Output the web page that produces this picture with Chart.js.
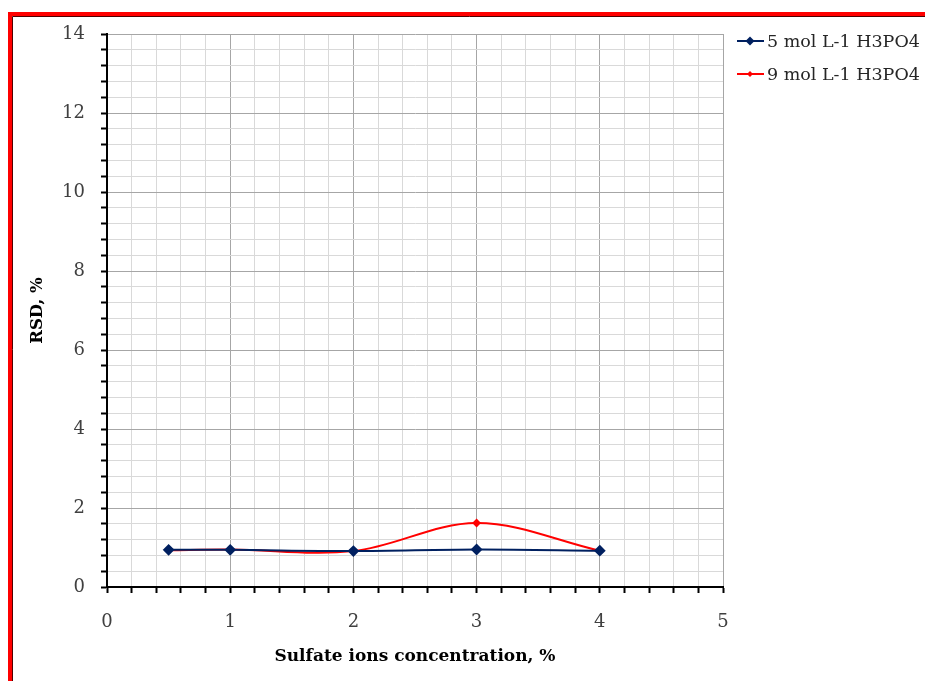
<!DOCTYPE html>
<html><head><meta charset="utf-8">
<script src="https://cdn.jsdelivr.net/npm/chart.js@4"></script>
<style>html,body{margin:0;padding:0;background:#fff}#wrap{width:925px;height:681px}</style>
</head><body><div id="wrap"><canvas id="c" width="925" height="681"></canvas></div>
<script>
const xValues = [0.5, 1, 2, 3, 4];
const series5 = [0.94, 0.94, 0.91, 0.95, 0.92];
const series9 = [0.93, 0.95, 0.91, 1.62, 0.92];
const seriesNames = ['5 mol L-1 H3PO4', '9 mol L-1 H3PO4'];
const seriesColors = ['#002060', '#ff0000'];
const xTitle = 'Sulfate ions concentration, %';
const yTitle = 'RSD, %';
const xMajorLabels = [0, 1, 2, 3, 4, 5];
const yMajorLabels = [0, 2, 4, 6, 8, 10, 12, 14];

const isMajor = (v, arr) => arr.some(m => Math.abs(v - m) < 1e-6);
const serif = "'DejaVu Serif', serif";

const framePlugin = {
  id: 'frame',
  beforeDraw(chart) {
    const ctx = chart.ctx;
    ctx.save();
    ctx.fillStyle = '#fff';
    ctx.fillRect(0, 0, chart.width, chart.height);
    ctx.restore();
  },
  afterDraw(chart) {
    const ctx = chart.ctx;
    ctx.save();
    ctx.strokeStyle = '#ff0000';
    ctx.lineWidth = 4;
    ctx.strokeRect(10, 14, 2000, 2000);
    ctx.strokeStyle = '#500000';
    ctx.lineWidth = 1;
    ctx.beginPath();
    ctx.moveTo(12.5, 2000); ctx.lineTo(12.5, 16.5); ctx.lineTo(2000, 16.5);
    ctx.stroke();
    // legend
    ctx.font = '17.5px ' + serif;
    ctx.textBaseline = 'middle';
    chart.data.datasets.forEach((ds, i) => {
      const y = 41 + i * 33;
      ctx.strokeStyle = ds.borderColor;
      ctx.lineWidth = 2;
      ctx.beginPath(); ctx.moveTo(737, y); ctx.lineTo(764, y); ctx.stroke();
      ctx.fillStyle = ds.borderColor;
      const r = ds.pointRadius;
      ctx.beginPath();
      ctx.moveTo(750, y - r); ctx.lineTo(750 + r, y); ctx.lineTo(750, y + r); ctx.lineTo(750 - r, y); ctx.closePath();
      ctx.fill();
      ctx.fillStyle = '#262626';
      ctx.fillText(ds.label, 767, y + 1);
    });
    ctx.restore();
  }
};

new Chart(document.getElementById('c'), {
  type: 'line',
  data: {
    datasets: [
      { label: seriesNames[0], data: xValues.map((x, i) => ({x, y: series5[i]})),
        borderColor: seriesColors[0], backgroundColor: seriesColors[0], borderWidth: 2,
        pointStyle: 'rectRot', pointRadius: 4.5, tension: 0.35 },
      { label: seriesNames[1], data: xValues.map((x, i) => ({x, y: series9[i]})),
        borderColor: seriesColors[1], backgroundColor: seriesColors[1], borderWidth: 2,
        pointStyle: 'rectRot', pointRadius: 3, tension: 0.35 }
    ]
  },
  options: {
    responsive: false,
    animation: false,
    layout: { padding: { top: 34, right: 202, left: 0, bottom: 0 } },
    plugins: { legend: { display: false }, tooltip: { enabled: false } },
    scales: {
      x: {
        type: 'linear', min: 0, max: 5,
        ticks: { stepSize: 0.2, autoSkip: false, maxRotation: 0, padding: 19,
          color: '#404040', font: { family: serif, size: 18 },
          callback: v => isMajor(v, xMajorLabels) ? String(Math.round(v)) : '' },
        grid: { color: c => isMajor(c.tick.value, xMajorLabels) ? '#a6a6a6' : '#d9d9d9',
          tickColor: '#000', tickLength: 6, tickWidth: 2, lineWidth: 1 },
        border: { color: '#000', width: 2 },
        title: { display: true, text: xTitle, color: '#000',
          font: { family: serif, size: 17, weight: 'bold' }, padding: { top: 0, bottom: 14 } },
        afterFit: s => { s.height = 94; }
      },
      y: {
        type: 'linear', min: 0, max: 14,
        ticks: { stepSize: 0.4, autoSkip: false, padding: 16,
          color: '#404040', font: { family: serif, size: 18 },
          callback: v => isMajor(v, yMajorLabels) ? String(Math.round(v)) : '' },
        grid: { color: c => isMajor(c.tick.value, yMajorLabels) ? '#a6a6a6' : '#d9d9d9',
          tickColor: '#000', tickLength: 6, tickWidth: 2, lineWidth: 1 },
        border: { color: '#000', width: 2 },
        title: { display: true, text: yTitle, color: '#000',
          font: { family: serif, size: 16.5, weight: 'bold' }, padding: { top: 28, bottom: 0 } },
        afterFit: s => { s.width = 107; }
      }
    }
  },
  plugins: [framePlugin]
});
</script></body></html>
